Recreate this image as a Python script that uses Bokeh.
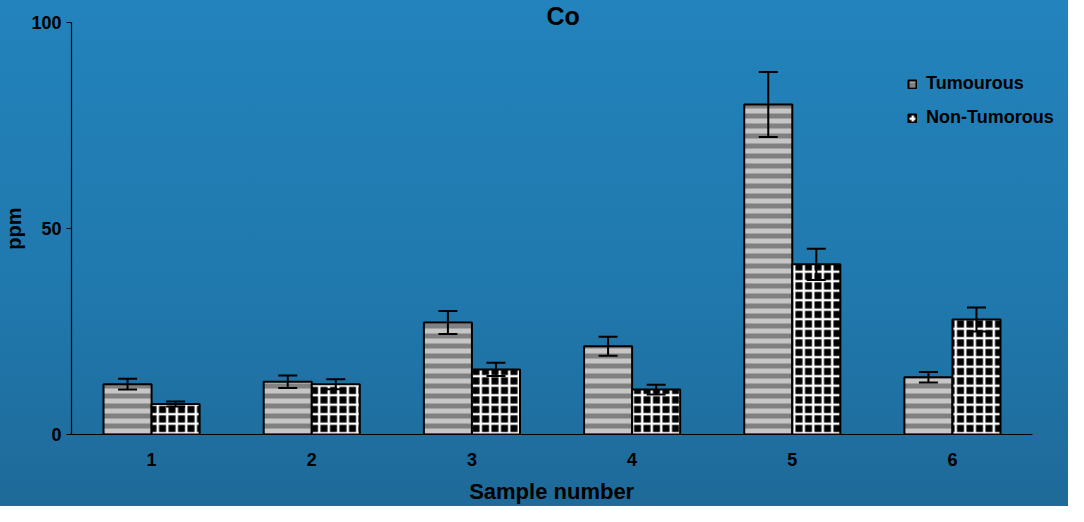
from bokeh.plotting import figure
from bokeh.models import ColumnDataSource, Whisker, TeeHead, FixedTicker, Legend, LegendItem, Label, Range1d
from bokeh.embed import file_html
from bokeh.resources import INLINE

samples = [1, 2, 3, 4, 5, 6]
tick_labels = {1: "1", 2: "2", 3: "3", 4: "4", 5: "5", 6: "6"}
tumourous = [12.2, 12.8, 27.2, 21.4, 80.1, 13.9]
tumourous_err = [1.3, 1.5, 2.8, 2.3, 7.9, 1.25]
non_tumorous = [7.4, 12.2, 15.8, 10.9, 41.3, 27.9]
non_tumorous_err = [0.6, 1.2, 1.6, 1.2, 3.8, 2.9]

OFF = 0.15
W = 0.3
NB = "\u00a0"

src_t = ColumnDataSource(dict(
    x=[s - OFF for s in samples], top=tumourous,
    upper=[v + e for v, e in zip(tumourous, tumourous_err)],
    lower=[v - e for v, e in zip(tumourous, tumourous_err)]))
src_n = ColumnDataSource(dict(
    x=[s + OFF for s in samples], top=non_tumorous,
    upper=[v + e for v, e in zip(non_tumorous, non_tumorous_err)],
    lower=[v - e for v, e in zip(non_tumorous, non_tumorous_err)]))

# frame spans to the right and top edges; axis lines are limited with bounds
p = figure(width=1068, height=506, output_backend="svg", toolbar_location=None,
           x_range=Range1d(0.5, 6.7245), y_range=Range1d(0, 105.33),
           min_border_left=70, min_border_right=0, min_border_top=0, min_border_bottom=71)
p.border_fill_color = None
p.background_fill_color = None
p.styles = {"background": "linear-gradient(180deg, #2383bc 0%, #2079ae 55%, #1e6a99 100%)"}
p.outline_line_color = None
p.grid.grid_line_color = None

FONT = "Liberation Sans"

r_t = p.vbar(x="x", top="top", width=W, bottom=0, source=src_t,
             fill_color="#c6c6c6", line_color="black", line_width=2,
             hatch_pattern="horizontal_line", hatch_color="#808080", hatch_scale=10, hatch_weight=5)
r_n = p.vbar(x="x", top="top", width=W, bottom=0, source=src_n,
             fill_color="black", line_color="black", line_width=2,
             hatch_pattern="cross", hatch_color="white", hatch_scale=9.5, hatch_weight=2.5)

for src in (src_t, src_n):
    w = Whisker(base="x", upper="upper", lower="lower", source=src, line_width=2, line_color="black",
                upper_head=TeeHead(size=19, line_width=2, line_color="black"),
                lower_head=TeeHead(size=19, line_width=2, line_color="black"), level="overlay")
    p.add_layout(w)

# axes
p.xaxis.bounds = (0.5, 6.5)
p.xaxis.ticker = FixedTicker(ticks=samples)
p.xaxis.major_label_overrides = tick_labels
p.xaxis.major_tick_out = 0
p.xaxis.major_tick_in = 0
p.xaxis.minor_tick_out = 0
p.xaxis.minor_tick_in = 0
p.xaxis.major_label_standoff = 18
p.xaxis.axis_label = "Sample number" + NB * 6
p.xaxis.axis_label_standoff = 10
p.xaxis.axis_label_text_font = FONT
p.xaxis.axis_label_text_font_style = "bold"
p.xaxis.axis_label_text_font_size = "22px"

p.yaxis.bounds = (0, 100)
p.yaxis.ticker = FixedTicker(ticks=[0, 50, 100])
p.yaxis.major_tick_out = 5
p.yaxis.major_tick_in = 0
p.yaxis.minor_tick_out = 0
p.yaxis.minor_tick_in = 0
p.yaxis.major_label_standoff = 5
p.yaxis.axis_label = "ppm" + NB * 4
p.yaxis.axis_label_standoff = 3
p.yaxis.axis_label_text_font = FONT
p.yaxis.axis_label_text_font_style = "bold"
p.yaxis.axis_label_text_font_size = "20px"

for ax in (p.xaxis, p.yaxis):
    ax.axis_line_color = "black"
    ax.axis_line_width = 1.2
    ax.major_tick_line_color = "black"
    ax.major_label_text_font = FONT
    ax.major_label_text_font_style = "bold"
    ax.major_label_text_font_size = "18px"
    ax.major_label_text_color = "black"
    ax.axis_label_text_color = "black"

# title
p.add_layout(Label(x=3.569, y=101.5, text="Co", text_align="center", text_baseline="middle",
                   text_font=FONT, text_font_style="bold", text_font_size="25px", text_color="black"))

legend = Legend(items=[LegendItem(label="Tumourous", renderers=[r_t]),
                       LegendItem(label="Non-Tumorous", renderers=[r_n])],
                location=(836, 306), padding=0, margin=0, spacing=13,
                glyph_width=10, glyph_height=10, label_height=20, label_standoff=9,
                label_text_font=FONT, label_text_font_style="bold", label_text_font_size="18px",
                label_text_color="black",
                background_fill_alpha=0, border_line_alpha=0)
p.add_layout(legend)

open("out.html", "w").write(file_html(p, INLINE))
